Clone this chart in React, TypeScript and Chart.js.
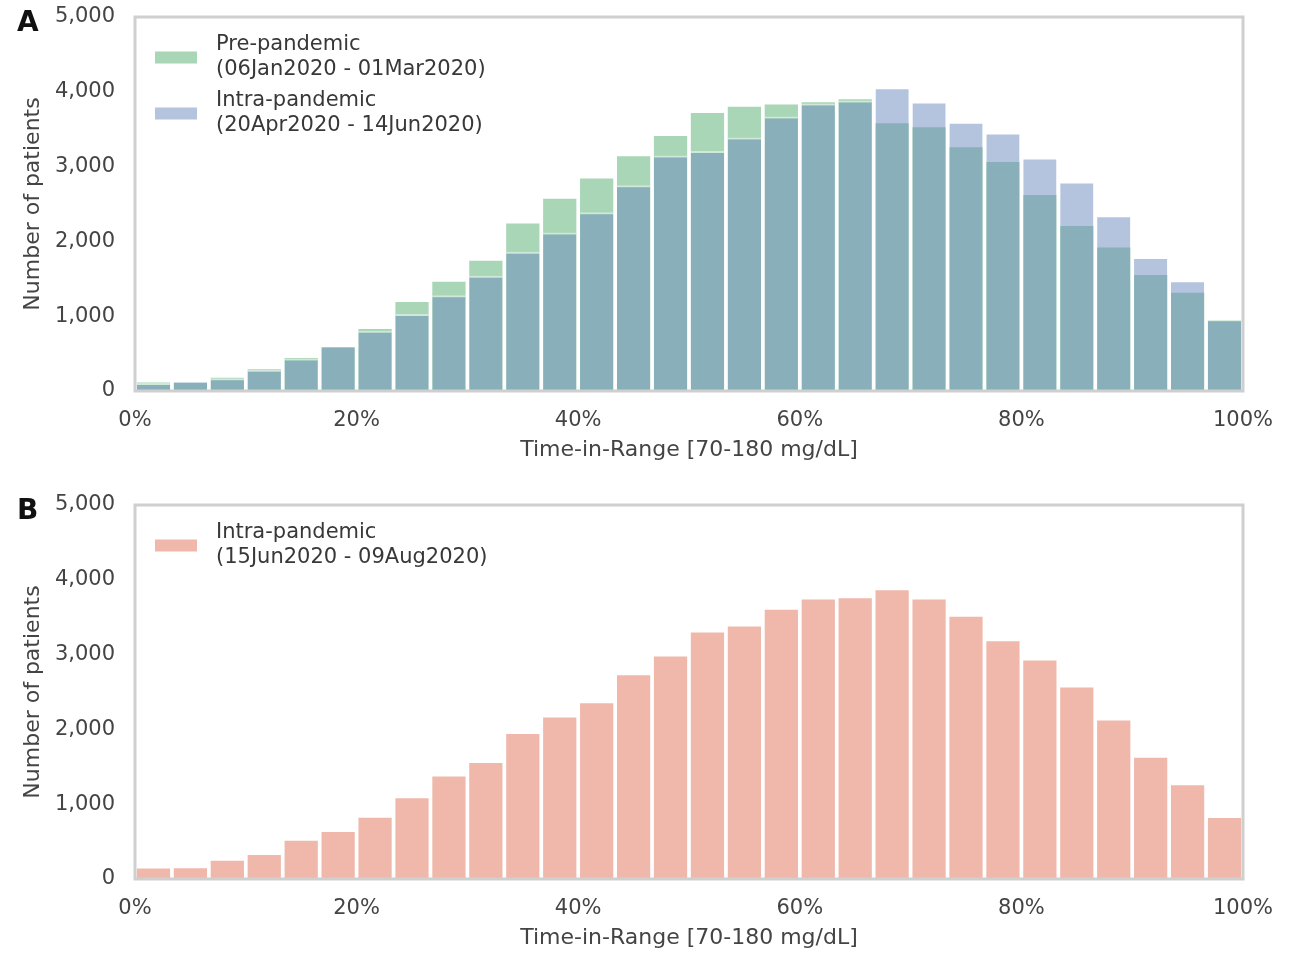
import React, { useEffect, useRef } from "react";
import { Chart, registerables } from "chart.js";

Chart.register(...registerables);

// ---------------- data ----------------
const BIN_COUNT = 30; // histogram bins over 0–100 %
const X_TICKS = [0, 20, 40, 60, 80, 100];
const Y_TICKS = [0, 1000, 2000, 3000, 4000, 5000];

const prePandemic = [
  112, 110, 178, 290, 440, 580, 830, 1190, 1460, 1740,
  2240, 2570, 2840, 3140, 3410, 3715, 3800, 3830, 3860, 3900,
  3580, 3525, 3260, 3060, 2620, 2205, 1920, 1550, 1315, 945,
];
const intraPandemicA = [
  108, 140, 172, 285, 435, 610, 805, 1030, 1280, 1540,
  1860, 2120, 2390, 2750, 3150, 3210, 3390, 3670, 3845, 3885,
  4060, 3870, 3600, 3455, 3120, 2800, 2350, 1790, 1480, 960,
];
const intraPandemicB = [
  140, 145, 245, 320, 510, 630, 820, 1080, 1370, 1550,
  1940, 2160, 2350, 2725, 2975, 3295, 3375, 3600, 3735, 3755,
  3860, 3735, 3505, 3180, 2920, 2560, 2120, 1620, 1255, 815,
];

const LABEL_PRE = ["Pre-pandemic", "(06Jan2020 - 01Mar2020)"];
const LABEL_INTRA_A = ["Intra-pandemic", "(20Apr2020 - 14Jun2020)"];
const LABEL_INTRA_B = ["Intra-pandemic", "(15Jun2020 - 09Aug2020)"];

const X_TITLE = "Time-in-Range [70-180 mg/dL]";
const Y_TITLE = "Number of patients";

// ---------------- styling ----------------
const FONT = '"DejaVu Sans", "Noto Sans", sans-serif';
const TEXT = "#444444";
const W = 1296;
const H = 465;
const AREA_LEFT = 135;
const AREA_RIGHT = 1243;
const AREA_TOP = 17;
const AREA_BOTTOM = 391;

type Series = {
  lines: string[];
  values: number[];
  color: string;
  order: number;
  topEdge?: string;
};

const binCenters = Array.from({ length: BIN_COUNT }, (_, i) => ((i + 0.5) * 100) / BIN_COUNT);

function Panel({ letter, series, top }: { letter: string; series: Series[]; top: number }) {
  const ref = useRef<HTMLCanvasElement | null>(null);

  useEffect(() => {
    if (!ref.current) return;

    const framePlugin = {
      id: "frame",
      afterDraw(chart: any) {
        const { ctx, chartArea } = chart;
        const { left, top: t, right, bottom } = chartArea;
        ctx.save();
        ctx.strokeStyle = "#cfcfcf";
        ctx.lineWidth = 3;
        ctx.strokeRect(left, t, right - left, bottom - t);

        // legend inside plot
        ctx.font = `21px ${FONT}`;
        ctx.textBaseline = "middle";
        ctx.textAlign = "left";
        series.forEach((s, k) => {
          const y0 = t + 28 + k * 56;
          ctx.fillStyle = s.color;
          ctx.fillRect(left + 20, y0 + 12.5 - 6, 42, 12);
          ctx.fillStyle = "#383838";
          s.lines.forEach((ln, j) => ctx.fillText(ln, left + 81, y0 + j * 25));
        });

        // panel letter
        ctx.font = `bold 28px ${FONT}`;
        ctx.textBaseline = "alphabetic";
        ctx.fillStyle = "#111111";
        ctx.fillText(letter, 17, 31);
        ctx.restore();
      },
    };

    const chart = new Chart(ref.current, {
      type: "bar",
      data: {
        datasets: series.map((s) => ({
          label: s.lines.join(" "),
          data: s.values.map((v, i) => ({ x: binCenters[i], y: v })),
          backgroundColor: s.color,
          borderColor: s.topEdge || "rgba(0,0,0,0)",
          borderWidth: s.topEdge ? { top: 2, left: 0, right: 0, bottom: 0 } : 0,
          borderSkipped: "bottom",
          grouped: false,
          order: s.order,
          barPercentage: 0.9,
          categoryPercentage: 1,
        })),
      } as any,
      options: {
        animation: false,
        responsive: false,
        devicePixelRatio: 1,
        layout: { padding: { left: 0, top: AREA_TOP, right: W - AREA_RIGHT, bottom: 0 } },
        plugins: { legend: { display: false }, tooltip: { enabled: false } },
        scales: {
          x: {
            type: "linear",
            min: X_TICKS[0],
            max: X_TICKS[X_TICKS.length - 1],
            offset: false,
            grid: { display: false, drawTicks: false },
            border: { display: false },
            afterBuildTicks: (scale: any) => {
              scale.ticks = X_TICKS.map((v) => ({ value: v }));
            },
            ticks: {
              callback: (v: any) => `${v}%`,
              font: { family: FONT, size: 21 },
              color: TEXT,
              padding: 17,
              maxRotation: 0,
            },
            title: {
              display: true,
              text: X_TITLE,
              font: { family: FONT, size: 22 },
              color: TEXT,
              padding: 2,
            },
            afterFit: (scale: any) => {
              scale.height = H - AREA_BOTTOM;
              scale.paddingLeft = 0;
              scale.paddingRight = 0;
            },
          },
          y: {
            type: "linear",
            min: Y_TICKS[0],
            max: Y_TICKS[Y_TICKS.length - 1],
            grid: { display: false, drawTicks: false },
            border: { display: false },
            afterBuildTicks: (scale: any) => {
              scale.ticks = Y_TICKS.map((v) => ({ value: v }));
            },
            ticks: {
              callback: (v: any) => Number(v).toLocaleString("en-US"),
              font: { family: FONT, size: 21 },
              color: TEXT,
              padding: 20,
            },
            title: {
              display: true,
              text: Y_TITLE,
              font: { family: FONT, size: 22 },
              color: TEXT,
              padding: { top: 20, bottom: 0 },
            },
            afterFit: (scale: any) => {
              scale.width = AREA_LEFT;
              scale.paddingTop = 0;
              scale.paddingBottom = 0;
            },
          },
        },
      } as any,
      plugins: [framePlugin],
    });

    return () => chart.destroy();
  }, []);

  return (
    <canvas
      ref={ref}
      width={W}
      height={H}
      style={{ position: "absolute", left: 0, top, width: W, height: H }}
    />
  );
}

export default function App() {
  const seriesA: Series[] = [
    { lines: LABEL_PRE, values: prePandemic, color: "rgba(81,173,109,0.5)", order: 2 },
    {
      lines: LABEL_INTRA_A,
      values: intraPandemicA,
      color: "rgba(105,138,192,0.5)",
      order: 1,
      topEdge: "rgba(255,255,255,0.45)",
    },
  ];
  const seriesB: Series[] = [
    { lines: LABEL_INTRA_B, values: intraPandemicB, color: "rgb(240,184,171)", order: 1 },
  ];
  return (
    <div style={{ position: "absolute", left: 0, top: 0, width: W, height: 953, background: "#fff" }}>
      <Panel letter="A" series={seriesA} top={0} />
      <Panel letter="B" series={seriesB} top={488} />
    </div>
  );
}
